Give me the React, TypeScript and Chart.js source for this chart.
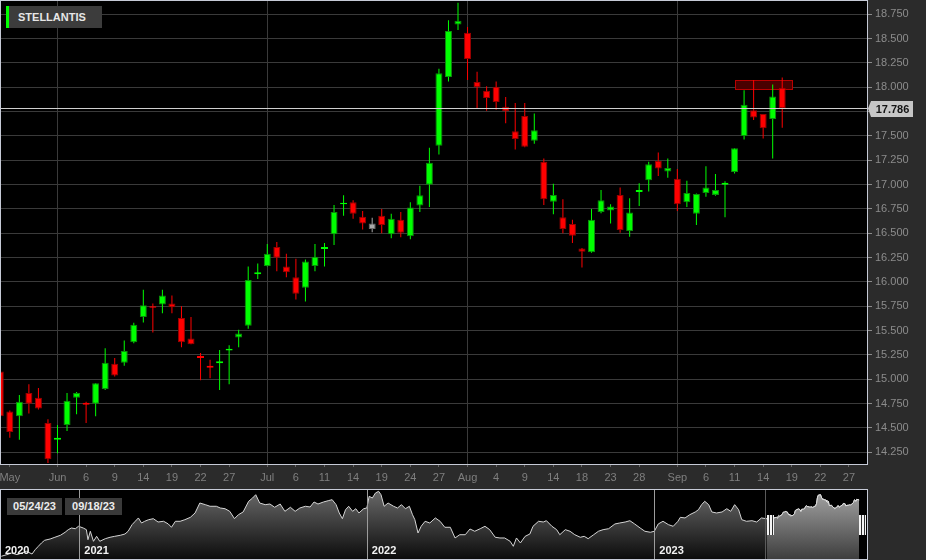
import React, { useEffect, useRef } from 'react';
import { Chart, registerables } from 'chart.js';

Chart.register(...registerables);

const FONT = '"Liberation Sans", Arial, Helvetica, sans-serif';

const symbolName = 'STELLANTIS';

// trading days shown on the main axis (Borsa Italiana calendar)
const dates = [
  '2023-05-24', '2023-05-25', '2023-05-26', '2023-05-29', '2023-05-30', '2023-05-31',
  '2023-06-01', '2023-06-02', '2023-06-05', '2023-06-06', '2023-06-07', '2023-06-08', '2023-06-09',
  '2023-06-12', '2023-06-13', '2023-06-14', '2023-06-15', '2023-06-16', '2023-06-19', '2023-06-20',
  '2023-06-21', '2023-06-22', '2023-06-23', '2023-06-26', '2023-06-27', '2023-06-28', '2023-06-29',
  '2023-06-30', '2023-07-03', '2023-07-04', '2023-07-05', '2023-07-06', '2023-07-07', '2023-07-10',
  '2023-07-11', '2023-07-12', '2023-07-13', '2023-07-14', '2023-07-17', '2023-07-18', '2023-07-19',
  '2023-07-20', '2023-07-21', '2023-07-24', '2023-07-25', '2023-07-26', '2023-07-27', '2023-07-28',
  '2023-07-31', '2023-08-01', '2023-08-02', '2023-08-03', '2023-08-04', '2023-08-07', '2023-08-08',
  '2023-08-09', '2023-08-10', '2023-08-11', '2023-08-14', '2023-08-16', '2023-08-17', '2023-08-18',
  '2023-08-21', '2023-08-22', '2023-08-23', '2023-08-24', '2023-08-25', '2023-08-28', '2023-08-29',
  '2023-08-30', '2023-08-31', '2023-09-01', '2023-09-04', '2023-09-05', '2023-09-06', '2023-09-07',
  '2023-09-08', '2023-09-11', '2023-09-12', '2023-09-13', '2023-09-14', '2023-09-15', '2023-09-18',
  '2023-09-19', '2023-09-20', '2023-09-21', '2023-09-22', '2023-09-25', '2023-09-26', '2023-09-27',
  '2023-09-28', '2023-09-29',
];

const opens = [
  15.08, 14.67, 14.62, 14.86, 14.81, 14.55, 14.38, 14.53, 14.81, 14.76,
  14.75, 14.90, 15.16, 15.17, 15.38, 15.64, 15.75, 15.77, 15.78, 15.63,
  15.42, 15.24, 15.14, 15.165, 15.295, 15.43, 15.55, 16.08, 16.165, 16.36,
  16.16, 16.05, 15.94, 16.165, 16.34, 16.49, 16.80, 16.82, 16.67, 16.545,
  16.68, 16.49, 16.64, 16.47, 16.785, 17.00, 17.40, 18.105, 18.645, 18.56,
  18.055, 17.965, 18.005, 17.80, 17.55, 17.705, 17.45, 17.235, 16.825, 16.665,
  16.595, 16.345, 16.305, 16.72, 16.735, 16.895, 16.525, 16.925, 17.045, 17.245,
  17.135, 17.06, 16.82, 16.70, 16.915, 16.895, 17.0, 17.13, 17.50, 17.765,
  17.725, 17.675, 17.995,
];
const highs = [
  15.10, 14.68, 14.84, 14.95, 14.91, 14.59, 14.53, 14.86, 14.87, 14.77,
  14.96, 15.32, 15.22, 15.40, 15.58, 15.92, 15.78, 15.92, 15.86, 15.75,
  15.64, 15.27, 15.20, 15.30, 15.35, 15.51, 16.16, 16.19, 16.39, 16.41,
  16.29, 16.24, 16.23, 16.39, 16.40, 16.79, 16.89, 16.84, 16.73, 16.66,
  16.75, 16.70, 16.72, 16.82, 16.99, 17.38, 18.19, 18.69, 18.87, 18.62,
  18.16, 18.01, 18.06, 17.90, 17.84, 17.84, 17.73, 17.27, 17.01, 16.85,
  16.64, 16.35, 16.75, 16.945, 16.80, 16.97, 16.86, 17.015, 17.235, 17.33,
  17.27, 17.16, 17.04, 16.91, 17.19, 17.11, 17.035, 17.375, 17.97, 18.075,
  17.725, 18.03, 18.10,
];
const lows = [
  14.60, 14.40, 14.38, 14.65, 14.69, 14.14, 14.24, 14.47, 14.64, 14.55,
  14.62, 14.89, 15.03, 15.14, 15.37, 15.585, 15.48, 15.68, 15.68, 15.33,
  15.36, 14.99, 15.01, 14.89, 14.95, 15.33, 15.52, 16.03, 16.16, 16.11,
  16.05, 15.82, 15.80, 16.11, 16.16, 16.38, 16.68, 16.65, 16.54, 16.51,
  16.50, 16.45, 16.46, 16.44, 16.72, 16.77, 17.31, 18.06, 18.59, 18.075,
  17.785, 17.76, 17.77, 17.63, 17.36, 17.385, 17.42, 16.79, 16.695, 16.50,
  16.40, 16.15, 16.30, 16.705, 16.60, 16.505, 16.465, 16.78, 16.93, 17.09,
  17.07, 16.73, 16.77, 16.585, 16.875, 16.885, 16.665, 17.115, 17.465, 17.665,
  17.475, 17.27, 17.585,
];
const closes = [
  14.62, 14.46, 14.77, 14.75, 14.70, 14.18, 14.40, 14.78, 14.86, 14.74,
  14.96, 15.17, 15.04, 15.29, 15.56, 15.76, 15.735, 15.86, 15.74, 15.38,
  15.36, 15.22, 15.12, 15.185, 15.315, 15.47, 16.02, 16.10, 16.29, 16.25,
  16.10, 15.88, 16.21, 16.26, 16.36, 16.72, 16.815, 16.70, 16.60, 16.60,
  16.585, 16.65, 16.505, 16.765, 16.89, 17.225, 18.145, 18.58, 18.685, 18.29,
  18.00, 17.89, 17.85, 17.755, 17.47, 17.39, 17.56, 16.85, 16.895, 16.545,
  16.475, 16.31, 16.64, 16.84, 16.775, 16.535, 16.715, 16.945, 17.21, 17.165,
  17.17, 16.80, 16.915, 16.905, 16.97, 16.945, 17.02, 17.375, 17.82, 17.69,
  17.58, 17.905, 17.786,
];

const yTickValues = [
  14.25, 14.5, 14.75, 15.0, 15.25, 15.5, 15.75, 16.0, 16.25, 16.5,
  16.75, 17.0, 17.25, 17.5, 17.75, 18.0, 18.25, 18.5, 18.75,
];

const xTickDates = [
  '2023-05-25', '2023-06-01', '2023-06-06', '2023-06-09', '2023-06-14', '2023-06-19', '2023-06-22',
  '2023-06-27', '2023-07-03', '2023-07-06', '2023-07-11', '2023-07-14', '2023-07-19', '2023-07-24',
  '2023-07-27', '2023-08-01', '2023-08-04', '2023-08-09', '2023-08-14', '2023-08-18', '2023-08-23',
  '2023-08-28', '2023-09-01', '2023-09-06', '2023-09-11', '2023-09-14', '2023-09-19', '2023-09-22',
  '2023-09-27',
];
const xTickLabels = [
  'May', 'Jun', '6', '9', '14', '19', '22', '27', 'Jul', '6', '11', '14', '19', '24', '27',
  'Aug', '4', '9', '14', '18', '23', '28', 'Sep', '6', '11', '14', '19', '22', '27',
];

// resistance zone drawn as a box
const zoneFrom = '2023-09-11';
const zoneTo = '2023-09-19';
const zoneLow = 17.98;
const zoneHigh = 18.08;

// navigator history (days relative to 2023-01-01, price)
const navHistDays = [
  -829, -822, -816, -809, -803, -797, -790, -786, -782, -778,
  -774, -767, -761, -754, -748, -744, -740, -735, -731, -725,
  -721, -719, -716, -712, -708, -704, -697, -691, -685, -678,
  -672, -668, -663, -659, -655, -651, -647, -642, -636, -630,
  -623, -617, -613, -608, -602, -596, -589, -583, -577, -570,
  -564, -556, -551, -545, -539, -533, -528, -522, -515, -510,
  -506, -501, -494, -488, -482, -475, -469, -462, -456, -450,
  -443, -437, -432, -427, -420, -414, -409, -404, -400, -396,
  -392, -388, -383, -379, -375, -369, -365, -362, -358, -354,
  -350, -347, -343, -338, -331, -326, -321, -316, -311, -307,
  -304, -300, -296, -291, -285, -278, -272, -266, -259, -253,
  -247, -240, -234, -228, -221, -215, -209, -202, -196, -190,
  -183, -179, -175, -170, -164, -158, -154, -147, -141, -137,
  -130, -124, -120, -113, -107, -101, -94, -89, -84, -77,
  -71, -65, -58, -50, -44, -37, -31, -25, -18, -12,
  -5, 0, 5, 11, 18, 24, 30, 33, 39, 45,
  52, 56, 60, 64, 69, 73, 79, 86, 92, 97,
  102, 107, 111, 117, 124, 130, 136,
];
const navHistValues = [
  8.31, 8.58, 8.86, 8.58, 8.86, 9.15, 8.69, 9.42, 9.99, 10.55,
  11.00, 11.22, 11.51, 11.84, 12.35, 12.79, 13.07, 12.95, 13.36, 13.07,
  12.79, 11.10, 12.52, 10.83, 11.67, 10.83, 11.27, 11.51, 11.67, 11.84,
  12.06, 12.52, 13.63, 14.20, 14.76, 13.91, 14.20, 14.47, 14.64, 14.08,
  14.20, 13.75, 13.19, 14.20, 14.20, 14.47, 14.87, 15.60, 17.28, 17.00,
  16.73, 16.73, 16.44, 16.32, 15.88, 14.64, 15.31, 15.77, 17.57, 18.12,
  18.68, 17.28, 17.00, 17.11, 16.56, 17.11, 15.88, 16.56, 15.88, 16.44,
  16.73, 16.61, 17.45, 17.11, 17.45, 17.67, 17.84, 17.00, 15.60, 14.64,
  16.15, 16.73, 15.88, 16.32, 15.60, 16.32, 16.44, 18.41, 18.12, 18.97,
  19.25, 18.68, 16.73, 17.28, 16.73, 16.44, 17.00, 16.32, 16.73, 15.31,
  14.47, 12.23, 13.36, 14.20, 13.91, 14.76, 14.20, 13.19, 13.19, 11.39,
  11.94, 11.94, 12.90, 12.52, 12.95, 13.36, 12.79, 11.51, 11.39, 11.39,
  10.83, 9.99, 11.39, 10.55, 11.67, 12.06, 13.36, 14.20, 14.08, 14.30,
  13.36, 12.79, 11.94, 12.79, 12.52, 11.94, 11.51, 11.67, 11.27, 11.94,
  12.52, 12.79, 12.95, 13.75, 13.91, 14.08, 14.30, 13.75, 13.07, 12.52,
  12.35, 12.52, 13.75, 14.20, 13.63, 13.36, 14.20, 14.87, 14.76, 15.31,
  15.77, 16.15, 17.00, 17.57, 17.00, 15.77, 15.60, 15.77, 16.32, 15.88,
  17.00, 16.15, 14.47, 14.20, 14.30, 14.08, 14.76,
];
const navYears = ['2020', '2021', '2022', '2023'];

// ---- view settings ----
const X_MIN = 0.0755;
const X_MAX = 90.89;
const Y_MIN = 14.13;
const Y_MAX = 18.887;
const NAV_X_MIN = -829.4;
const NAV_X_MAX = 270;
const NAV_Y_MIN = 7.85;
const NAV_Y_MAX = 19.47;

const dayOf = (s: string) =>
  (Date.UTC(+s.slice(0, 4), +s.slice(5, 7) - 1, +s.slice(8, 10)) - Date.UTC(2023, 0, 1)) / 86400000;

const fmtDate = (s: string) => `${s.slice(5, 7)}/${s.slice(8, 10)}/${s.slice(2, 4)}`;

export default function App() {
  const mainRef = useRef<HTMLCanvasElement>(null);
  const navRef = useRef<HTMLCanvasElement>(null);

  useEffect(() => {
    document.body.style.margin = '0';
    document.body.style.background = '#2b2b2b';
    Chart.defaults.font.family = FONT;

    const n = closes.length;
    const idx = closes.map((_, i) => i);
    const dir = idx.map((i) =>
      i > 0 && closes[i] === closes[i - 1] ? 0 : closes[i] >= opens[i] ? 1 : -1,
    );
    const fillCol = dir.map((d) => (d === 0 ? '#a9a9a9' : d > 0 ? '#00ff00' : '#ff0000'));
    const edgeCol = idx.map((i) =>
      Math.abs(closes[i] - opens[i]) < 0.035
        ? fillCol[i]
        : dir[i] === 0
        ? '#6c6c6c'
        : dir[i] > 0
        ? '#0c8c0c'
        : '#9a0000',
    );
    const bodyData = idx.map((i) => ({ x: i, y: [opens[i], closes[i]] }));
    const wickData = idx.map((i) => ({ x: i, y: [lows[i], highs[i]] }));
    const xTickIdx = xTickDates.map((d) => dates.indexOf(d));
    const xTickGrid = xTickDates.map((d, k) => /^[A-Za-z]/.test(xTickLabels[k]) && +d.slice(8, 10) <= 3);

    const mainPlugin = {
      id: 'mainDecor',
      beforeDraw(chart: any) {
        const { ctx, chartArea: a } = chart;
        ctx.save();
        ctx.fillStyle = '#000000';
        ctx.fillRect(a.left, a.top, a.right - a.left, a.bottom - a.top);
        ctx.restore();
      },
      beforeDatasetsDraw(chart: any) {
        const { ctx, scales } = chart;
        const x0 = Math.round(scales.x.getPixelForValue(dates.indexOf(zoneFrom))) + 0.5;
        const x1 = Math.round(scales.x.getPixelForValue(dates.indexOf(zoneTo))) + 0.5;
        const y0 = Math.round(scales.y.getPixelForValue(zoneHigh)) + 0.5;
        const y1 = Math.round(scales.y.getPixelForValue(zoneLow)) + 0.5;
        ctx.save();
        ctx.fillStyle = '#4a0000';
        ctx.fillRect(x0, y0, x1 - x0, y1 - y0);
        ctx.strokeStyle = '#b80000';
        ctx.lineWidth = 1;
        ctx.strokeRect(x0, y0, x1 - x0, y1 - y0);
        ctx.restore();
      },
      afterDatasetsDraw(chart: any) {
        const { ctx, chartArea: a, scales } = chart;
        const py = Math.round(scales.y.getPixelForValue(closes[n - 1])) + 0.5;
        ctx.save();
        ctx.strokeStyle = '#cfcfcf';
        ctx.lineWidth = 1;
        ctx.beginPath();
        ctx.moveTo(a.left, py);
        ctx.lineTo(a.right, py);
        ctx.stroke();
        ctx.restore();
      },
      afterDraw(chart: any) {
        const { ctx, chartArea: a, scales } = chart;
        ctx.save();
        ctx.strokeStyle = '#c6cad6';
        ctx.lineWidth = 1;
        ctx.strokeRect(a.left - 0.5, a.top - 0.5, a.right - a.left + 1, a.bottom - a.top + 1);
        const last = closes[n - 1];
        const py = Math.round(scales.y.getPixelForValue(last)) + 0.5;
        const r = a.right;
        ctx.fillStyle = '#c6c6c6';
        ctx.beginPath();
        ctx.moveTo(r + 1, py);
        ctx.lineTo(r + 4, py - 7.5);
        ctx.lineTo(r + 46, py - 7.5);
        ctx.lineTo(r + 46, py + 8.5);
        ctx.lineTo(r + 4, py + 8.5);
        ctx.closePath();
        ctx.fill();
        ctx.fillStyle = '#141414';
        ctx.font = `bold 11px ${FONT}`;
        ctx.textAlign = 'center';
        ctx.textBaseline = 'middle';
        ctx.fillText(last.toFixed(3), r + 25.5, py + 1);
        ctx.restore();
      },
    };

    const main = new Chart(mainRef.current as HTMLCanvasElement, {
      type: 'bar',
      data: {
        datasets: [
          {
            label: 'body',
            data: bodyData as any,
            backgroundColor: fillCol,
            borderColor: edgeCol,
            borderWidth: 1,
            borderSkipped: false,
            barThickness: 7,
            grouped: false,
            inflateAmount: 0,
          } as any,
          {
            label: 'wick',
            data: wickData as any,
            backgroundColor: fillCol,
            borderWidth: 0,
            barThickness: 1,
            grouped: false,
            inflateAmount: 0,
          } as any,
        ],
      },
      options: {
        animation: false,
        responsive: false,
        events: [],
        layout: { padding: { left: 1, top: 1, right: 0, bottom: 0 } },
        plugins: { legend: { display: false }, tooltip: { enabled: false } },
        scales: {
          x: {
            type: 'linear',
            min: X_MIN,
            max: X_MAX,
            offset: false,
            afterBuildTicks: (s: any) => {
              s.ticks = xTickIdx.map((v) => ({ value: v }));
            },
            afterFit: (s: any) => {
              s.height = 25;
              s.paddingLeft = 0;
              s.paddingRight = 0;
            },
            grid: {
              offset: false,
              color: (c: any) => (xTickGrid[c.index] ? '#3a3a3a' : 'rgba(0,0,0,0)'),
              tickColor: '#666666',
              tickLength: 3,
              lineWidth: 1,
            },
            border: { display: false },
            ticks: {
              color: '#7f7f7f',
              font: { size: 11, family: FONT },
              padding: 4,
              maxRotation: 0,
              autoSkip: false,
              callback: (_v: any, i: number) => xTickLabels[i],
            },
          },
          y: {
            type: 'linear',
            position: 'right',
            min: Y_MIN,
            max: Y_MAX,
            beginAtZero: false,
            afterBuildTicks: (s: any) => {
              s.ticks = yTickValues.map((v) => ({ value: v }));
            },
            afterFit: (s: any) => {
              s.width = 59;
              s.paddingTop = 0;
              s.paddingBottom = 0;
            },
            grid: { color: '#3a3a3a', lineWidth: 1, tickLength: 5, tickColor: '#8c8c8c' },
            border: { display: false },
            ticks: {
              color: '#8c8c8c',
              font: { size: 11, family: FONT },
              padding: 3,
              autoSkip: false,
              callback: (v: any) => Number(v).toFixed(3),
            },
          },
        },
      } as any,
      plugins: [mainPlugin],
    });

    // ---- navigator ----
    const selData = idx.map((i) => ({ x: dayOf(dates[i]), y: closes[i] }));
    const allData = navHistDays.map((d, k) => ({ x: d, y: navHistValues[k] })).concat(selData);
    const grad = (top: string, bottom: string) => (c: any) => {
      const a = c.chart.chartArea;
      if (!a) return 'rgba(0,0,0,0)';
      const g = c.chart.ctx.createLinearGradient(0, a.top, 0, a.bottom);
      g.addColorStop(0, top);
      g.addColorStop(1, bottom);
      return g;
    };

    const navPlugin = {
      id: 'navDecor',
      beforeDraw(chart: any) {
        const { ctx, chartArea: a } = chart;
        ctx.save();
        ctx.fillStyle = '#000000';
        ctx.fillRect(a.left, a.top, a.right - a.left, a.bottom - a.top);
        ctx.restore();
      },
      afterDatasetsDraw(chart: any) {
        const { ctx, chartArea: a, scales } = chart;
        const sx = scales.x;
        ctx.save();
        ctx.font = `bold 11px ${FONT}`;
        ctx.textBaseline = 'middle';
        ctx.textAlign = 'left';
        navYears.forEach((yr) => {
          const px = sx.getPixelForValue(dayOf(`${yr}-01-01`));
          const inside = px > a.left + 1;
          if (inside) {
            const lx = Math.round(px) + 0.5;
            ctx.strokeStyle = '#9c9c9c';
            ctx.lineWidth = 1;
            ctx.beginPath();
            ctx.moveTo(lx, a.top);
            ctx.lineTo(lx, a.bottom);
            ctx.stroke();
          }
          ctx.fillStyle = '#f2f2f2';
          ctx.fillText(yr, inside ? px + 5 : a.left + 4, a.top + 60.5);
        });
        const s = Math.round(sx.getPixelForValue(dayOf(dates[0])));
        const e = Math.round(sx.getPixelForValue(dayOf(dates[n - 1])));
        ctx.strokeStyle = '#5a5a5a';
        ctx.beginPath();
        ctx.moveTo(s - 1.5, a.top);
        ctx.lineTo(s - 1.5, a.bottom);
        ctx.stroke();
        [s, e].forEach((hx) => {
          ctx.fillStyle = '#f4f4f4';
          ctx.fillRect(hx, a.top + 25, 7, 20);
          ctx.fillStyle = '#303030';
          ctx.fillRect(hx + 2, a.top + 25, 1, 20);
          ctx.fillRect(hx + 5, a.top + 25, 1, 20);
        });
        ctx.restore();
      },
    };

    const nav = new Chart(navRef.current as HTMLCanvasElement, {
      type: 'line',
      data: {
        datasets: [
          {
            data: selData as any,
            borderColor: '#e2e2e2',
            borderWidth: 1,
            pointRadius: 0,
            fill: 'start',
            backgroundColor: grad('#a6a6a6', '#3e3e3e'),
            tension: 0,
          },
          {
            data: allData as any,
            borderColor: '#d4d4d4',
            borderWidth: 1,
            pointRadius: 0,
            fill: 'start',
            backgroundColor: grad('#6a6a6a', '#0c0c0c'),
            tension: 0,
          },
        ],
      },
      options: {
        animation: false,
        responsive: false,
        events: [],
        layout: { padding: 0 },
        plugins: { legend: { display: false }, tooltip: { enabled: false } },
        scales: {
          x: { type: 'linear', display: false, min: NAV_X_MIN, max: NAV_X_MAX },
          y: { type: 'linear', display: false, min: NAV_Y_MIN, max: NAV_Y_MAX },
        },
      } as any,
      plugins: [navPlugin],
    });

    return () => {
      main.destroy();
      nav.destroy();
    };
  }, []);

  const boxText: React.CSSProperties = {
    position: 'absolute',
    top: 498,
    height: 17,
    background: '#3a3a3a',
    color: '#ececec',
    fontFamily: FONT,
    fontWeight: 'bold',
    fontSize: 11,
    lineHeight: '17px',
    textAlign: 'center',
  };

  return (
    <div
      style={{
        position: 'relative',
        width: 926,
        height: 560,
        background: '#2b2b2b',
        overflow: 'hidden',
        fontFamily: FONT,
      }}
    >
      <canvas
        ref={mainRef}
        width={926}
        height={489}
        style={{ position: 'absolute', left: 0, top: 0, width: 926, height: 489 }}
      />
      <div
        style={{
          position: 'absolute',
          left: 6,
          top: 6,
          width: 96,
          height: 22,
          background: '#3c3c3c',
        }}
      >
        <div style={{ position: 'absolute', left: 0, top: 0, width: 3, height: 22, background: '#00ff00' }} />
        <div
          style={{
            position: 'absolute',
            left: 12,
            top: 0,
            color: '#e6e6e6',
            fontFamily: FONT,
            fontWeight: 'bold',
            fontSize: 11,
            lineHeight: '22px',
          }}
        >
          {symbolName}
        </div>
      </div>
      <div
        style={{
          position: 'absolute',
          left: 0,
          top: 489,
          width: 866,
          height: 69,
          border: '1px solid #c6cad6',
        }}
      >
        <canvas
          ref={navRef}
          width={866}
          height={69}
          style={{ position: 'absolute', left: 0, top: 0, width: 866, height: 69 }}
        />
      </div>
      <div style={{ ...boxText, left: 7, width: 55 }}>{fmtDate(dates[0])}</div>
      <div style={{ ...boxText, left: 65, width: 57 }}>{fmtDate(dates[closes.length - 1])}</div>
    </div>
  );
}
